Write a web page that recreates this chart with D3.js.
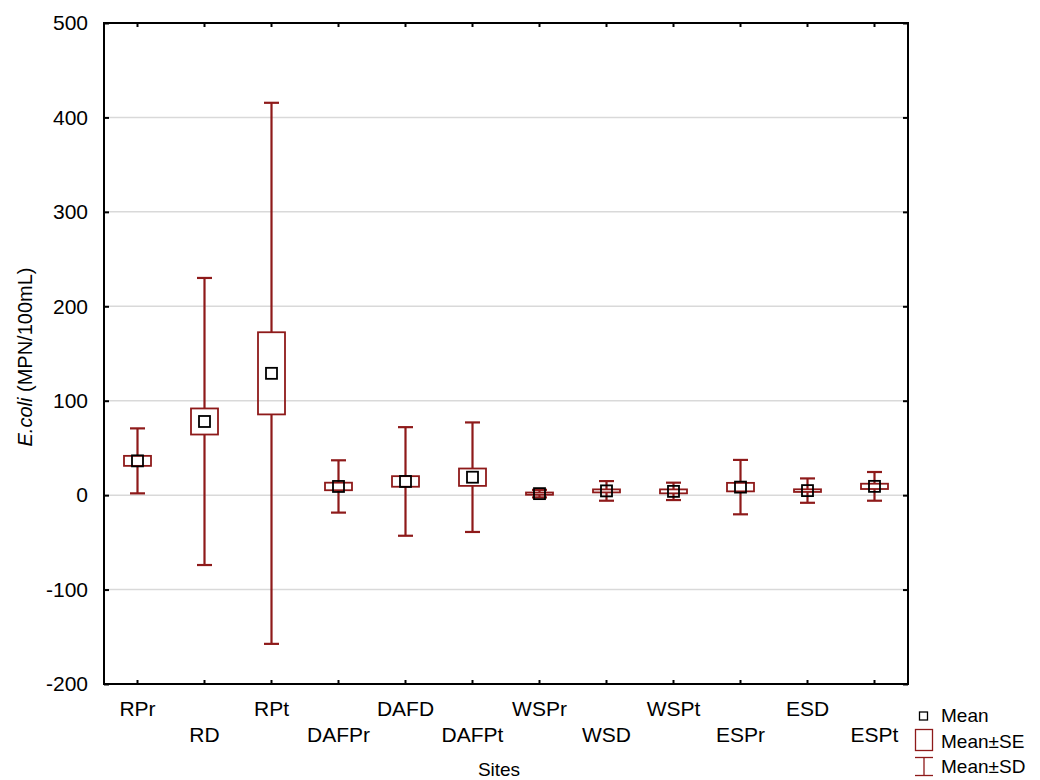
<!DOCTYPE html>
<html>
<head>
<meta charset="utf-8">
<script src="https://cdn.jsdelivr.net/npm/d3@7"></script>
<style>
  html, body { margin: 0; padding: 0; background: #fff; }
  svg { display: block; font-family: "Liberation Sans", Arial, sans-serif; }
</style>
</head>
<body>
<svg id="chart" width="1040" height="780"></svg>
<script>
// Sampling sites and E. coli summary statistics (MPN/100mL)
const sites = ["RPr", "RD", "RPt", "DAFPr", "DAFD", "DAFPt", "WSPr", "WSD", "WSPt", "ESPr", "ESD", "ESPt"];
const means = [36.3, 78.0, 129.0, 9.2, 14.5, 19.0, 1.6, 4.5, 4.0, 8.5, 4.8, 9.3];
const stdErr = [5.3, 13.8, 43.5, 4.0, 5.6, 9.2, 1.2, 1.6, 2.1, 4.5, 1.4, 2.8];
const stdDev = [34.4, 152.0, 286.5, 27.7, 57.5, 58.0, 4.0, 10.4, 9.2, 28.8, 12.9, 15.2];
const yTicks = [-200, -100, 0, 100, 200, 300, 400, 500];

const rows = sites.map((s, i) => ({ site: s, mean: means[i], se: stdErr[i], sd: stdDev[i] }));

const svg = d3.select("#chart");
const m = { left: 104, right: 908, top: 23, bottom: 684 };
const red = "#8e1a1a";
const fontSize = 21;

const x = d3.scaleBand().domain(sites).range([m.left, m.right]);
const y = d3.scaleLinear().domain([-200, 500]).range([m.bottom, m.top]);
const cx = d => x(d) + x.bandwidth() / 2;

// horizontal grid lines
svg.append("g").selectAll("line")
  .data(yTicks.filter(t => t > -200 && t < 500))
  .join("line")
  .attr("x1", m.left).attr("x2", m.right)
  .attr("y1", d => y(d)).attr("y2", d => y(d))
  .attr("stroke", "#d9d9d9").attr("stroke-width", 1.5);

// axes with inward ticks on all four sides
const axisLeft = d3.axisLeft(y).tickValues(yTicks).tickSize(-5).tickPadding(16)
  .tickFormat(d => String(d));
const axisRight = d3.axisRight(y).tickValues(yTicks).tickSize(-5).tickFormat("");
const axisBottom = d3.axisBottom(x).tickSize(-4).tickFormat("");
const axisTop = d3.axisTop(x).tickSize(-4).tickFormat("");

function styleAxis(g) {
  g.select(".domain").attr("stroke", "#000").attr("stroke-width", 2);
  g.selectAll(".tick line").attr("stroke", "#000").attr("stroke-width", 2);
  g.selectAll("text").attr("font-size", fontSize).attr("fill", "#000")
    .attr("font-family", "Liberation Sans, Arial, sans-serif");
}
svg.append("g").attr("transform", `translate(${m.left},0)`).call(axisLeft).call(styleAxis);
svg.append("g").attr("transform", `translate(${m.right},0)`).call(axisRight).call(styleAxis);
svg.append("g").attr("transform", `translate(0,${m.bottom})`).call(axisBottom).call(styleAxis);
svg.append("g").attr("transform", `translate(0,${m.top})`).call(axisTop).call(styleAxis);
svg.selectAll(".domain").attr("d", null);
svg.append("rect")
  .attr("x", m.left).attr("y", m.top)
  .attr("width", m.right - m.left).attr("height", m.bottom - m.top)
  .attr("fill", "none").attr("stroke", "#000").attr("stroke-width", 2);

// category labels, staggered over two rows
svg.append("g").selectAll("text")
  .data(sites)
  .join("text")
  .attr("x", d => cx(d))
  .attr("y", (d, i) => i % 2 === 0 ? 716 : 742)
  .attr("text-anchor", "middle")
  .attr("font-size", fontSize)
  .text(d => d);

// axis titles
svg.append("text")
  .attr("x", (m.left + m.right) / 2 - 7).attr("y", 776)
  .attr("text-anchor", "middle").attr("font-size", fontSize - 2)
  .text("Sites");

const yTitle = svg.append("text")
  .attr("transform", `translate(32,${357}) rotate(-90)`)
  .attr("text-anchor", "middle").attr("font-size", fontSize - 1);
yTitle.append("tspan").attr("font-style", "italic").text("E.coli");
yTitle.append("tspan").text(" (MPN/100mL)");

// whiskers (mean ± SD), caps, SE boxes and mean markers
const boxW = 27, capW = 15, markW = 11;
const g = svg.append("g");

g.selectAll("line.upper").data(rows).join("line")
  .attr("x1", d => cx(d.site)).attr("x2", d => cx(d.site))
  .attr("y1", d => y(d.mean + d.se)).attr("y2", d => y(d.mean + d.sd))
  .attr("stroke", red).attr("stroke-width", 2.2);
g.selectAll("line.lower").data(rows).join("line")
  .attr("x1", d => cx(d.site)).attr("x2", d => cx(d.site))
  .attr("y1", d => y(d.mean - d.se)).attr("y2", d => y(d.mean - d.sd))
  .attr("stroke", red).attr("stroke-width", 2.2);
["top", "bottom"].forEach(side => {
  g.append("g").selectAll("line").data(rows).join("line")
    .attr("x1", d => cx(d.site) - capW / 2).attr("x2", d => cx(d.site) + capW / 2)
    .attr("y1", d => y(side === "top" ? d.mean + d.sd : d.mean - d.sd))
    .attr("y2", d => y(side === "top" ? d.mean + d.sd : d.mean - d.sd))
    .attr("stroke", red).attr("stroke-width", 2.2);
});
g.append("g").selectAll("rect").data(rows).join("rect")
  .attr("x", d => cx(d.site) - boxW / 2)
  .attr("y", d => y(d.mean + d.se))
  .attr("width", boxW)
  .attr("height", d => y(d.mean - d.se) - y(d.mean + d.se))
  .attr("fill", "none").attr("stroke", red).attr("stroke-width", 1.8);
g.append("g").selectAll("rect").data(rows).join("rect")
  .attr("x", d => cx(d.site) - markW / 2)
  .attr("y", d => y(d.mean) - markW / 2)
  .attr("width", markW).attr("height", markW)
  .attr("fill", "none").attr("stroke", "#000").attr("stroke-width", 1.8);

// legend
const lg = svg.append("g");
lg.append("rect").attr("x", 919.5).attr("y", 712).attr("width", 8).attr("height", 8)
  .attr("fill", "none").attr("stroke", "#000").attr("stroke-width", 1.3);
lg.append("rect").attr("x", 915.5).attr("y", 729.5).attr("width", 17).attr("height", 21)
  .attr("fill", "none").attr("stroke", red).attr("stroke-width", 1.3);
lg.append("line").attr("x1", 924).attr("x2", 924).attr("y1", 757).attr("y2", 776)
  .attr("stroke", red).attr("stroke-width", 1.3);
lg.append("line").attr("x1", 915).attr("x2", 933).attr("y1", 757.5).attr("y2", 757.5)
  .attr("stroke", red).attr("stroke-width", 1.3);
lg.append("line").attr("x1", 915).attr("x2", 933).attr("y1", 775.5).attr("y2", 775.5)
  .attr("stroke", red).attr("stroke-width", 1.3);
const legendItems = ["Mean", "Mean\u00b1SE", "Mean\u00b1SD"];
lg.selectAll("text").data(legendItems).join("text")
  .attr("x", 941).attr("y", (d, i) => 722 + i * 25.5)
  .attr("font-size", fontSize - 2)
  .text(d => d);
</script>
</body>
</html>
